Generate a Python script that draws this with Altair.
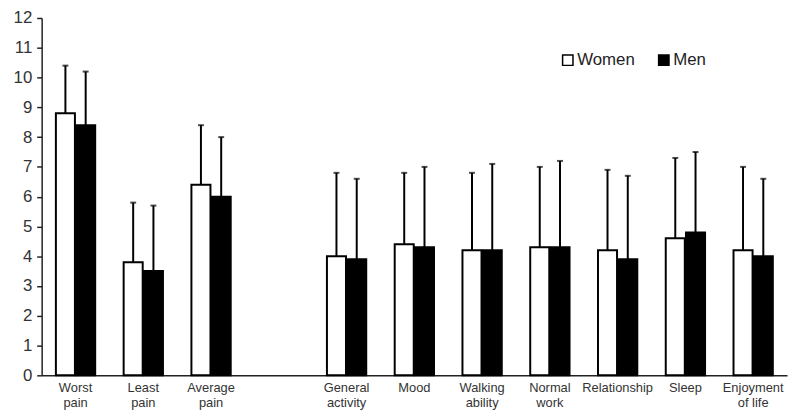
import altair as alt
import pandas as pd

categories = ["Worst pain", "Least pain", "Average pain", " ",
              "General activity", "Mood", "Walking ability", "Normal work",
              "Relationship", "Sleep", "Enjoyment of life"]
data_categories = [c for c in categories if c.strip()]
women_mean = [8.8, 3.8, 6.4, 4.0, 4.4, 4.2, 4.3, 4.2, 4.6, 4.2]
women_upper = [10.4, 5.8, 8.4, 6.8, 6.8, 6.8, 7.0, 6.9, 7.3, 7.0]
men_mean = [8.4, 3.5, 6.0, 3.9, 4.3, 4.2, 4.3, 3.9, 4.8, 4.0]
men_upper = [10.2, 5.7, 8.0, 6.6, 7.0, 7.1, 7.2, 6.7, 7.5, 6.6]
groups = ["Women", "Men"]
y_ticks = list(range(13))

rows = []
for i, c in enumerate(data_categories):
    rows.append({"cat": c, "sex": "Women", "mean": women_mean[i], "upper": women_upper[i]})
    rows.append({"cat": c, "sex": "Men", "mean": men_mean[i], "upper": men_upper[i]})
df = pd.DataFrame(rows)

FONT = "Liberation Sans"

x_axis = alt.Axis(title=None, ticks=False, labelAngle=0, labelFontSize=13,
                  labelFont=FONT, labelColor="#333", labelPadding=6,
                  domainColor="#222", domainWidth=1.5, labelLineHeight=15,
                  labelExpr="indexof(datum.label,' ') > 0 ? [substring(datum.label,0,indexof(datum.label,' ')), substring(datum.label,indexof(datum.label,' ')+1)] : datum.label")
y_axis = alt.Axis(title=None, values=y_ticks, grid=False, tickSize=5,
                  labelOverlap=False, labelFlush=False, labelBound=False,
                  tickColor="#222", tickWidth=1.5, domainColor="#222", domainWidth=1.5,
                  labelFontSize=17, labelFont=FONT, labelColor="#333", labelPadding=5)
x_scale = alt.Scale(domain=categories, paddingInner=0.42, paddingOuter=0.21)
y_scale = alt.Scale(domain=[0, 12], nice=False)

def xenc():
    return alt.X("cat:N", scale=x_scale, sort=categories, axis=x_axis)

xoff = alt.XOffset("sex:N", sort=groups, scale=alt.Scale(domain=groups, paddingInner=0.06))

bars = alt.Chart(df).mark_bar(stroke="black", strokeWidth=2).encode(
    x=xenc(),
    xOffset=xoff,
    y=alt.Y("mean:Q", scale=y_scale, axis=y_axis),
    fill=alt.Fill("sex:N", sort=groups,
                  scale=alt.Scale(domain=groups, range=["white", "black"]),
                  legend=alt.Legend(title=None, orient="none", legendX=523, legendY=34,
                                    direction="horizontal", symbolType="square", symbolSize=110,
                                    symbolStrokeColor="black", symbolStrokeWidth=1.5,
                                    labelFontSize=17, labelFont=FONT, labelColor="#222",
                                    labelOffset=1, columnPadding=20)),
)

rules = alt.Chart(df).mark_rule(color="black", strokeWidth=2).encode(
    x=xenc(),
    xOffset=xoff,
    y=alt.Y("mean:Q", scale=y_scale, axis=y_axis),
    y2="upper:Q",
)

caps = alt.Chart(df).mark_tick(color="black", thickness=2, size=6, orient="horizontal").encode(
    x=xenc(),
    xOffset=xoff,
    y=alt.Y("upper:Q", scale=y_scale, axis=y_axis),
)

chart = alt.layer(bars, rules, caps).properties(
    width=753, height=361,
    background="white",
    autosize=alt.AutoSizeParams(type="none"),
    padding={"left": 34, "top": 8, "right": 5, "bottom": 40},
).configure_view(stroke=None)

chart.save("out.html", embed_options={"renderer": "svg", "actions": False})
